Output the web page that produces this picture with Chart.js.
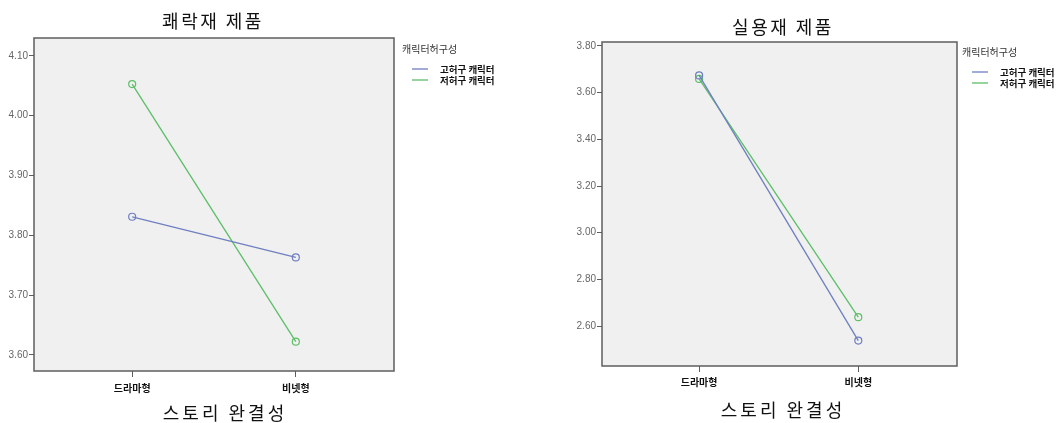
<!DOCTYPE html>
<html>
<head>
<meta charset="utf-8">
<script src="https://cdn.jsdelivr.net/npm/chart.js@4.4.1/dist/chart.umd.min.js"></script>
<style>
  body { margin: 0; background: #fff; width: 1064px; height: 423px; overflow: hidden; }
  .box { position: absolute; top: 0; height: 423px; }
</style>
</head>
<body>
<div class="box" style="left:0;width:540px"><canvas id="chartLeft"></canvas></div>
<div class="box" style="left:540px;width:524px"><canvas id="chartRight"></canvas></div>
<script>
// data
const storyTypes = ["드라마형", "비넷형"];
const groupNames = ["고허구 캐릭터", "저허구 캐릭터"];
const hedonicHigh = [3.831, 3.763];
const hedonicLow = [4.053, 3.622];
const utilHigh = [3.674, 2.538];
const utilLow = [3.659, 2.638];
const hedonicTicks = [3.60, 3.70, 3.80, 3.90, 4.00, 4.10];
const utilTicks = [2.60, 2.80, 3.00, 3.20, 3.40, 3.60, 3.80];

const blue = "#6f7fc0";
const green = "#5cbf68";
const KR = "'Noto Sans CJK KR', sans-serif";

// background + frame + titles + legend drawn around the plot
const decoPlugin = {
  id: "deco",
  beforeDraw(chart, args, o) {
    const a = chart.chartArea, ctx = chart.ctx;
    ctx.save();
    ctx.fillStyle = "#f0f0f0";
    ctx.fillRect(a.left, a.top, a.right - a.left, a.bottom - a.top);
    ctx.restore();
  },
  afterDraw(chart, args, o) {
    const a = chart.chartArea, ctx = chart.ctx;
    ctx.save();
    ctx.strokeStyle = "#5e5e5e";
    ctx.lineWidth = 1.5;
    ctx.strokeRect(a.left, a.top, a.right - a.left, a.bottom - a.top);

    ctx.fillStyle = "#111";
    ctx.textAlign = "center";
    ctx.textBaseline = "middle";
    ctx.font = "18px " + KR;
    ctx.letterSpacing = "2.5px";
    ctx.fillText(o.title, o.titleX, o.titleY);
    ctx.letterSpacing = "3px";
    ctx.fillText("스토리 완결성", o.titleX + o.xTitleShift, o.xTitleY);
    ctx.letterSpacing = "0px";

    // legend
    ctx.textAlign = "left";
    ctx.fillStyle = "#333";
    ctx.font = "10px " + KR;
    ctx.fillText("캐릭터허구성", o.legX, o.legY);
    chart.data.datasets.forEach((ds, i) => {
      const y = o.legY + 20 + i * 11;
      ctx.strokeStyle = ds.borderColor;
      ctx.lineWidth = 1.3;
      ctx.beginPath();
      ctx.moveTo(o.legX + 10, y);
      ctx.lineTo(o.legX + 26, y);
      ctx.stroke();
      ctx.fillStyle = "#111";
      ctx.font = "bold 9.5px " + KR;
      ctx.fillText(ds.label, o.legX + 38, y);
    });
    ctx.restore();
  }
};

function makeChart(id, high, low, yTicks, cfg) {
  const ctx = document.getElementById(id).getContext("2d");
  return new Chart(ctx, {
    type: "line",
    data: {
      datasets: [
        {
          label: groupNames[0],
          data: high.map((v, i) => ({ x: i, y: v })),
          borderColor: blue,
          pointBorderColor: blue,
          backgroundColor: "rgba(0,0,0,0)",
          borderWidth: 1.3,
          pointRadius: 3.5,
          pointBorderWidth: 1.2,
        },
        {
          label: groupNames[1],
          data: low.map((v, i) => ({ x: i, y: v })),
          borderColor: green,
          pointBorderColor: green,
          backgroundColor: "rgba(0,0,0,0)",
          borderWidth: 1.3,
          pointRadius: 3.5,
          pointBorderWidth: 1.2,
        },
      ],
    },
    options: {
      responsive: true,
      maintainAspectRatio: false,
      animation: false,
      layout: { padding: { left: 0, top: cfg.top, right: cfg.right, bottom: 0 } },
      plugins: {
        legend: { display: false },
        tooltip: { enabled: false },
        deco: cfg.deco,
      },
      scales: {
        x: {
          type: "linear",
          min: cfg.xMin,
          max: cfg.xMax,
          afterBuildTicks: (s) => { s.ticks = storyTypes.map((c, i) => ({ value: i })); },
          afterFit: (s) => { s.height = cfg.xHeight; },
          ticks: {
            callback: (v) => storyTypes[v],
            color: "#111",
            font: { family: KR, size: 10, weight: "bold" },
            padding: cfg.xPad,
            maxRotation: 0,
          },
          grid: { drawOnChartArea: false, drawTicks: true, tickLength: 6, color: "#5e5e5e" },
          border: { display: false },
        },
        y: {
          min: cfg.yMin,
          max: cfg.yMax,
          afterBuildTicks: (s) => { s.ticks = yTicks.map((v) => ({ value: v })); },
          afterFit: (s) => { s.width = cfg.yWidth; },
          ticks: {
            callback: (v) => Number(v).toFixed(2),
            color: "#666",
            font: { family: "'Liberation Sans', Arial, sans-serif", size: 10 },
            padding: 1,
          },
          grid: { drawOnChartArea: false, drawTicks: true, tickLength: 5, color: "#5e5e5e" },
          border: { display: false },
        },
      },
    },
    plugins: [decoPlugin],
  });
}

makeChart("chartLeft", hedonicHigh, hedonicLow, hedonicTicks, {
  top: 38, right: 146, xHeight: 52, xPad: 5, yWidth: 34,
  xMin: -0.6, xMax: 1.6, yMin: 3.573, yMax: 4.130,
  deco: { title: "쾌락재 제품", titleX: 213, titleY: 21, xTitleShift: 12, xTitleY: 413, legX: 402, legY: 49 },
});

makeChart("chartRight", utilHigh, utilLow, utilTicks, {
  top: 42, right: 107, xHeight: 57, xPad: 4, yWidth: 62,
  xMin: -0.61, xMax: 1.62, yMin: 2.429, yMax: 3.817,
  deco: { title: "실용재 제품", titleX: 243, titleY: 27, xTitleShift: 0, xTitleY: 410, legX: 422, legY: 52 },
});
</script>
</body>
</html>
